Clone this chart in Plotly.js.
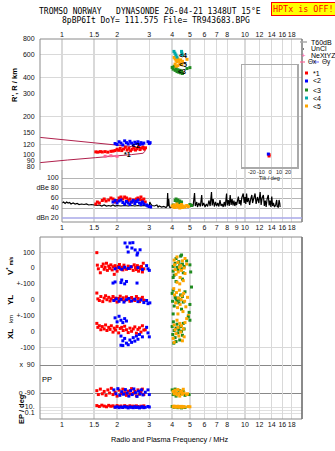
<!DOCTYPE html>
<html><head><meta charset="utf-8">
<script src="https://cdn.plot.ly/plotly-3.0.1.min.js"></script>
<style>html,body{margin:0;padding:0;background:#fff}#plot{width:335px;height:451px}</style>
</head><body><div id="plot"></div>
<script>
// ---------- DATA ----------
const freqTicks = [1,1.5,2,3,4,5,6,7,8,10,12,14,16,18];
const freqTicksMid = [1,1.5,2,3,4,5,6,7,8,9,10,12,14,16,18];
const heightTicks = [80,90,100,120,150,200,300,400,600,800];
const heightGrid = [120,200,400,600];
const dbTicks = [100,80,60,40,20];
const dbLabels = ['100','dBe 80','60','40','dBn 20'];
const tiltTicks = [-20,-10,0,10,20];

// height panel (f MHz, km)
const modelCurve = [[0.75,136.5],[1.07,130],[1.52,122.5],[2.0,118.9],[2.4,115.5],[2.77,111.9],[2.83,110.5],[2.84,106],[2.8,103.5],[2.77,102.4],[2.4,100],[2.0,97.5],[1.52,94.6],[1.07,90.7],[0.75,86.4]];
const hRed = [[1.53,105],[1.57,104.5],[1.62,105.5],[1.66,104.8],[1.72,105.5],[1.78,104.5],[1.85,106],[1.9,106.5],[1.95,107.5],[2.0,110],[2.04,108],[2.08,112],[2.12,107.5],[2.17,110.5],[2.22,114],[2.27,108.5],[2.32,112],[2.37,107],[2.42,110],[2.47,113.5],[2.52,108.5],[2.57,111],[2.62,115],[2.67,109.5],[2.72,112.5],[2.77,114.5],[2.82,110.5],[2.86,113]];
const hBlue = [[1.95,122],[2.0,120],[2.05,126],[2.1,123],[2.15,119],[2.2,128],[2.25,124],[2.3,121],[2.35,127],[2.4,123],[2.45,119],[2.5,125],[2.55,122],[2.6,126],[2.65,120],[2.7,124],[2.75,121],[2.8,123],[2.95,126],[3.0,122],[3.03,124]];
const hPink = [[1.72,97],[1.85,98],[2.0,97]];
const hCyan = [[4.09,640],[4.14,620],[4.19,600],[4.25,578],[4.50,640],[4.52,620],[4.54,600]];
const hOrange = [[4.1,575],[4.15,560],[4.2,545],[4.25,530],[4.3,560],[4.35,540],[4.4,520],[4.45,550],[4.5,505],[4.55,535],[4.15,510],[4.3,495],[4.2,490],[4.82,555]];
const hGreen = [[4.0,480],[4.05,465],[4.1,490],[4.15,455],[4.2,470],[4.25,445],[4.3,460],[4.35,440],[4.4,455],[4.45,435],[4.5,450],[4.55,430],[4.82,470],[5.0,478]];
const modeLabels = [['*1',2.27,101],['&lt;2',2.55,117],['&lt;4',4.58,590],['&lt;5',4.58,510],['&lt;3',4.55,442]];
const tiltRed = [[-1,100],[-1,97.5]];
const tiltBlue = [[-1.8,101]];

// amplitude panel (f MHz, dB)
const noise = [[1.00,50],[1.02,52],[1.04,49],[1.06,52],[1.08,50],[1.10,51],[1.12,48],[1.15,50],[1.18,48],[1.21,49],[1.24,47],[1.28,48],[1.32,47],[1.36,48],[1.40,46],[1.45,47],[1.50,46],[1.55,45],[1.60,46],[1.65,44],[1.70,46],[1.75,44],[1.80,45],[1.85,44],[1.90,46],[1.95,44],[2.0,45],[2.1,44],[2.2,45],[2.3,44],[2.4,45],[2.5,44],[2.6,45],[2.7,44],[2.8,45],[2.9,44],[3.0,46],[3.02,52],[3.05,48],[3.1,45],[3.2,44],[3.3,46],[3.35,42],[3.4,44],[3.5,42],[3.6,43],[3.7,41],[3.75,43],[3.78,70],[3.80,44],[3.83,58],[3.86,42],[3.9,41],[3.95,42],[4.0,41],
 [5.0,42],[5.1,48],[5.2,43],[5.3,70],[5.35,44],[5.45,52],[5.5,42],[5.6,50],[5.7,43],[5.8,66],[5.85,44],[5.95,50],[6.05,42],[6.15,48],[6.25,43],[6.35,55],[6.45,44],[6.56,72],[6.62,45],[6.7,58],[6.8,43],[6.9,52],[7.0,44],[7.1,50],[7.2,43],[7.3,56],[7.4,44],[7.5,48],[7.6,42],[7.7,52],[7.8,43],[7.93,69],[8.0,45],[8.1,56],[8.2,44],[8.3,66],[8.4,46],[8.5,58],[8.6,45],[8.7,55],[8.8,44],[8.9,52],[9.0,46],[9.1,58],[9.2,63],[9.3,48],[9.4,56],[9.5,45],[9.6,60],[9.78,69],[9.9,50],[10.0,62],[10.1,48],[10.2,69],[10.3,52],[10.45,60],[10.6,46],[10.75,58],[10.9,66],[11.0,50],[11.15,60],[11.35,69],[11.5,48],[11.7,62],[11.9,50],[12.1,72],[12.25,46],[12.4,60],[12.6,66],[12.75,44],[12.9,55],[13.05,42],[13.2,58],[13.4,66],[13.55,45],[13.7,55],[13.85,42],[14.0,63],[14.15,44],[14.3,50],[14.5,42],[14.7,46],[14.9,56],[15.0,43],[15.2,42],[15.35,56],[15.5,49],[15.55,42]];
const aRed = [[1.53,48],[1.56,52],[1.6,50],[1.66,55],[1.7,58],[1.74,54],[1.8,56],[1.85,60],[1.9,58],[1.95,52],[2.0,55],[2.05,60],[2.1,62],[2.15,58],[2.2,62],[2.25,60],[2.3,55],[2.35,58],[2.4,52],[2.45,56],[2.5,54],[2.55,58],[2.6,60],[2.65,57],[2.7,62],[2.75,55],[2.8,58],[2.85,52]];
const aBlue = [[1.9,52],[1.95,55],[2.0,50],[2.05,54],[2.1,56],[2.15,51],[2.2,48],[2.25,53],[2.3,50],[2.35,47],[2.4,52],[2.45,55],[2.5,49],[2.55,53],[2.6,56],[2.65,50],[2.7,47],[2.75,52],[2.8,48],[2.9,46],[2.95,44],[3.0,43],[3.05,42]];
const aGreen = [[4.15,55],[4.2,58],[4.25,52],[4.3,56],[4.35,50],[4.4,54],[4.45,48],[4.5,52],[4.05,46],[5.0,47],[5.1,45]];
const aOrange = [[4.0,44],[4.05,42],[4.1,46],[4.15,41],[4.2,44],[4.25,48],[4.3,42],[4.35,45],[4.4,40],[4.45,43],[4.5,47],[4.55,41],[4.6,44],[4.7,42],[4.8,45],[4.9,43]];

// velocity V* (m/s)
const vRed = [[1.55,97],[1.56,18],[1.58,-5],[1.62,-30],[1.65,10],[1.68,25],[1.70,-8],[1.72,5],[1.75,30],[1.77,-15],[1.80,12],[1.82,-2],[1.85,20],[1.88,-12],[1.90,8],[1.93,-40],[1.95,15],[1.98,0],[2.00,-20],[2.03,10],[2.06,22],[2.08,-5],[2.12,5],[2.15,-12],[2.18,18],[2.20,0],[2.25,-8],[2.30,12],[2.35,-3],[2.40,8],[2.45,-15],[2.48,20],[2.52,3],[2.55,-10],[2.58,15],[2.62,-20],[2.65,6],[2.68,-4],[2.72,10],[2.75,-25],[2.78,30],[2.80,-5]];
const vBlue = [[1.95,-5],[2.05,3],[2.12,-8],[2.2,5],[2.3,-3],[2.38,8],[2.6,2],[2.75,-10],[2.9,15],[2.95,-5],[3.0,-15],[2.21,158],[2.35,158],[2.44,160],[2.27,133],[2.41,126],[2.51,114],[2.30,101],[2.59,95],[2.57,82],[2.67,115],[1.90,-95],[1.95,-88],[2.0,-107],[2.1,-92],[2.12,-76],[2.25,-85],[2.57,-95],[2.2,-100]];
const vGreen = [[4.05,10],[4.05,-20],[4.1,-45],[4.15,30],[4.2,60],[4.25,5],[4.3,-10],[4.35,40],[4.4,20],[4.45,75],[4.5,82],[4.5,-5],[4.55,25],[4.6,-30],[4.65,10],[4.8,45],[5.0,20],[5.05,-25],[4.05,-60],[4.2,-85],[4.55,-70]];
const vOrange = [[4.1,50],[4.12,20],[4.15,-10],[4.2,-40],[4.25,70],[4.3,35],[4.32,-25],[4.38,5],[4.42,-60],[4.45,15],[4.5,-15],[4.55,45],[4.6,-80],[4.65,0],[4.7,60],[4.7,-35],[4.8,25],[4.4,-100],[4.25,-90]];
// YL (km)
const ylRed = [[1.55,42],[1.57,5],[1.6,-5],[1.63,20],[1.67,-12],[1.7,10],[1.73,25],[1.76,0],[1.8,15],[1.83,-8],[1.86,5],[1.9,20],[1.93,-3],[1.96,10],[2.0,-15],[2.04,8],[2.08,22],[2.12,0],[2.16,12],[2.2,-6],[2.25,18],[2.3,4],[2.35,-10],[2.4,14],[2.45,2],[2.5,-5],[2.55,20],[2.6,8],[2.65,-12],[2.7,5],[2.75,15],[2.8,-3]];
const ylBlue = [[1.92,-5],[1.98,5],[2.05,-10],[2.1,2],[2.18,-15],[2.25,0],[2.32,8],[2.4,-8],[2.5,3],[2.6,-12],[2.7,-2],[2.8,-18],[2.9,-5],[2.95,-25],[3.02,-20]];
const ylGreen = [[4.0,40],[4.02,-10],[4.05,60],[4.1,-40],[4.15,15],[4.2,5],[4.25,-5],[4.3,10],[4.35,-20],[4.4,0],[4.45,30],[4.5,-60],[4.55,20],[4.6,-15],[4.7,50],[4.95,-80],[5.0,-30],[5.1,80],[4.05,-90],[5.0,110]];
const ylOrange = [[4.08,70],[4.12,30],[4.18,-20],[4.22,45],[4.28,-50],[4.32,10],[4.38,60],[4.42,-30],[4.48,0],[4.52,25],[4.58,-75],[4.62,40],[4.68,-10],[4.75,-45],[4.85,15],[4.9,-100],[4.3,-90]];
// XL (km)
const xlRed = [[1.55,50],[1.57,25],[1.6,35],[1.63,10],[1.66,30],[1.7,15],[1.73,40],[1.76,5],[1.8,25],[1.83,12],[1.86,35],[1.9,-5],[1.93,20],[1.96,8],[2.0,30],[2.04,-10],[2.08,18],[2.12,25],[2.16,5],[2.2,32],[2.25,10],[2.3,-8],[2.35,20],[2.4,0],[2.45,15],[2.5,28],[2.55,-12],[2.6,12],[2.65,22],[2.7,-5],[2.75,35],[2.8,8],[2.85,10]];
const xlBlue = [[1.9,100],[1.95,85],[2.0,60],[2.05,95],[2.1,70],[2.15,55],[2.2,80],[2.25,65],[2.1,-30],[2.15,-60],[2.2,-45],[2.25,-75],[2.3,-85],[2.35,-55],[2.4,-70],[2.45,-40],[2.5,-62],[2.55,-30],[2.6,-50],[2.65,-20],[2.75,-35],[2.9,25],[2.95,-10],[3.0,-35],[2.1,-88],[2.15,-90]];
const xlGreen = [[4.0,30],[4.03,-20],[4.06,60],[4.1,5],[4.15,-40],[4.2,20],[4.25,45],[4.3,-10],[4.35,10],[4.4,-55],[4.45,30],[4.5,0],[4.55,-25],[4.6,50],[4.65,15],[4.08,-75],[4.2,-65],[4.9,90],[5.0,70]];
const xlOrange = [[4.05,-45],[4.1,40],[4.15,10],[4.2,-15],[4.25,70],[4.3,25],[4.35,-30],[4.4,50],[4.45,-5],[4.5,35],[4.55,-60],[4.6,15],[4.65,-35],[4.7,55],[4.8,80],[4.1,-70]];
// PP (deg)
const ppRed = [[1.55,-75],[1.58,-100],[1.62,-65],[1.66,-95],[1.7,-80],[1.74,-105],[1.78,-70],[1.82,-90],[1.86,-60],[1.9,-100],[1.95,-85],[2.0,-110],[2.05,-72],[2.1,-95],[2.15,-65],[2.2,-88],[2.25,-105],[2.3,-78],[2.35,-96],[2.4,-62],[2.45,-92],[2.5,-80],[2.55,-108],[2.6,-70],[2.65,-98],[2.7,-85],[2.75,-65],[2.8,-100]];
const ppBlue = [[1.92,-70],[1.97,-95],[2.02,-62],[2.07,-105],[2.12,-82],[2.17,-98],[2.22,-68],[2.27,-90],[2.32,-110],[2.37,-75],[2.42,-100],[2.47,-64],[2.52,-88],[2.57,-112],[2.62,-78],[2.67,-95],[2.72,-70],[2.77,-102],[2.85,-85],[2.95,-70],[3.0,-100]];
const ppGreen = [[4.0,-70],[4.05,-100],[4.1,-85],[4.15,-65],[4.2,-110],[4.3,-90],[4.4,-75],[4.5,-95],[4.6,-80],[4.7,-105],[4.95,-100]];
const ppOrange = [[4.05,-80],[4.1,-95],[4.15,-72],[4.2,-88],[4.25,-102],[4.3,-68],[4.35,-92],[4.4,-110],[4.45,-78],[4.5,-85],[4.55,-98],[4.6,-66],[4.65,-90],[4.8,-100],[4.85,-95]];
// EP (deg)
const epRed = [[1.55,30],[1.6,15],[1.65,40],[1.7,20],[1.75,12],[1.8,35],[1.85,18],[1.9,25],[1.95,10],[2.0,30],[2.05,14],[2.1,22],[2.15,8],[2.2,28],[2.25,16],[2.3,11],[2.35,26],[2.4,13],[2.45,20],[2.5,9],[2.55,24],[2.6,15],[2.65,7],[2.7,19],[2.75,12],[2.8,25]];
const epBlue = [[1.95,8],[2.0,12],[2.05,6],[2.1,10],[2.15,7],[2.2,14],[2.25,9],[2.3,5],[2.35,11],[2.4,8],[2.45,6],[2.5,13],[2.55,7],[2.6,10],[2.65,5],[2.7,9],[2.75,12],[2.8,6],[2.85,8],[2.95,15],[3.0,10]];
const epGreen = [[4.0,15],[4.1,8],[4.2,12],[4.3,6],[4.4,10],[4.5,5],[4.6,9],[4.7,7]];
const epOrange = [[4.05,12],[4.1,20],[4.15,9],[4.2,15],[4.25,11],[4.3,18],[4.35,8],[4.4,14],[4.45,10],[4.5,16],[4.55,9],[4.6,13],[4.7,11],[4.9,14],[5.0,12]];

// ---------- LAYOUT GEOMETRY ----------
const W = 335, H = 451;
const XL0 = 40, XR = 302, XF1 = 62, PXDEC = 183;
const xr = [(XL0 - XF1) / PXDEC, (XR - XF1) / PXDEC];
const xd = [XL0 / W, XR / W];
const py = v => 1 - v / H;
const pxp = v => v / W;
const C = {red:'#ff0000', blue:'#0000ff', green:'#1f8a1f', cyan:'#00aaaa', orange:'#ffa500', pink:'#ff6699', curve:'#b0204c'};
const FONT = 'Liberation Sans, Arial, sans-serif';
const tf = {family: FONT, size: 7, color: '#111'};
const GRID = '#d9d9d9';

function pts(d, xa, ya, color, extra) {
  return Object.assign({type:'scatter', mode:'markers', x:d.map(p=>p[0]), y:d.map(p=>p[1]),
    xaxis:xa, yaxis:ya, marker:{symbol:'square', size:3, color:color, line:{width:0}},
    hoverinfo:'skip', showlegend:false, cliponaxis:false}, extra || {});
}

const traces = [
  {type:'scatter', mode:'lines', x:modelCurve.map(p=>p[0]), y:modelCurve.map(p=>p[1]), xaxis:'x', yaxis:'y',
   line:{color:C.curve, width:1}, hoverinfo:'skip', showlegend:false},
  pts(hRed,'x','y',C.red), pts(hBlue,'x','y',C.blue),
  {type:'scatter', mode:'lines+markers', x:hPink.map(p=>p[0]), y:hPink.map(p=>p[1]), xaxis:'x', yaxis:'y',
   line:{color:C.pink, width:1}, marker:{symbol:'square', size:3, color:C.pink}, hoverinfo:'skip', showlegend:false},
  pts(hGreen,'x','y',C.green), pts(hOrange,'x','y',C.orange), pts(hCyan,'x','y',C.cyan),
  pts(tiltRed,'x4','y8',C.red), pts(tiltBlue,'x4','y8',C.blue),
  {type:'scatter', mode:'lines', x:noise.slice(0,55).map(p=>p[0]), y:noise.slice(0,55).map(p=>p[1]), xaxis:'x2', yaxis:'y2',
   line:{color:'#000', width:1.2}, hoverinfo:'skip', showlegend:false},
  {type:'scatter', mode:'lines', x:noise.slice(55).map(p=>p[0]), y:noise.slice(55).map(p=>p[1]), xaxis:'x2', yaxis:'y2',
   line:{color:'#000', width:1.2}, hoverinfo:'skip', showlegend:false},
  pts(aRed,'x2','y2',C.red), pts(aBlue,'x2','y2',C.blue), pts(aGreen,'x2','y2',C.green), pts(aOrange,'x2','y2',C.orange),
];
const lower = [['y3',vRed,vBlue,vGreen,vOrange],['y4',ylRed,ylBlue,ylGreen,ylOrange],['y5',xlRed,xlBlue,xlGreen,xlOrange],
  ['y6',ppRed,ppBlue,ppGreen,ppOrange],['y7',epRed,epBlue,epGreen,epOrange]];
lower.forEach(r => {
  traces.push(pts(r[1],'x3',r[0],C.red), pts(r[2],'x3',r[0],C.blue), pts(r[3],'x3',r[0],C.green), pts(r[4],'x3',r[0],C.orange));
});

function xAx(domain, range, anchor, side, tv) {
  return {type:'log', domain:domain, range:range, anchor:anchor, side:side, tickmode:'array', tickvals:tv, ticktext:tv.map(String),
    tickangle:0, showgrid:true, gridcolor:GRID, gridwidth:1.5, zeroline:false, showline:false, ticks:'', tickfont:tf, fixedrange:true};
}
function yAx(domain, range, tv, tt, grid, gcol, type) {
  return {type:type||'linear', domain:domain, range:range, anchor:'x3', tickmode:'array', tickvals:tv, ticktext:tt,
    showgrid:false, zeroline:false, showline:false, ticks:'outside', ticklen:3, tickcolor:'rgba(0,0,0,0)', tickfont:tf,
    minor:{tickmode:'array', tickvals:grid, showgrid:true, gridcolor:gcol||GRID, gridwidth:1, ticks:''}, fixedrange:true};
}
const logTop = Math.log10(800), pxPerDec = 128;
const layout = {
  width:W, height:H, margin:{l:0,r:0,t:0,b:0}, paper_bgcolor:'#fff', plot_bgcolor:'rgba(0,0,0,0)', showlegend:false,
  xaxis: xAx(xd, xr, 'y', 'top', freqTicks),
  yaxis: Object.assign(yAx([py(170), py(39)], [logTop - (170-39)/pxPerDec, logTop], heightTicks, heightTicks.map(String), heightGrid, GRID, 'log'), {anchor:'x'}),
  xaxis2: xAx([pxp(XF1), pxp(XR)], [0, xr[1]], 'y2', 'bottom', freqTicksMid),
  yaxis2: Object.assign(yAx([py(222), py(170)], [12, 116], dbTicks, dbLabels, [100,80,60,40], '#b4b4b4'), {anchor:'x2', ticklen:1}),
  xaxis3: xAx(xd, xr, 'y7', 'bottom', freqTicks),
  yaxis3: yAx([py(284), py(237)], [-101, 195.8], [100,0,-100], ['100','0','+-100'], [100,-100]),
  yaxis4: yAx([py(316), py(284)], [-103, 99.2], [0,-100], ['0','+-100'], [-100]),
  yaxis5: yAx([py(358), py(316)], [-168.7, 96.7], [0,-100], ['0','-100'], [-100]),
  yaxis6: yAx([py(400), py(358)], [-135, 135], [90,-90], ['x  90','o -90'], [90,-90], '#888'),
  yaxis7: yAx([py(419), py(400)], [-3, 3.333], [10,0.1], ['10.','0.1'], [10,1,0.1], '#e0e0e0', 'log'),
  xaxis4: {domain:[pxp(242), pxp(297)], range:[-31, 30], anchor:'y8', tickmode:'array', tickvals:tiltTicks, ticktext:tiltTicks.map(String),
    tickangle:0, showgrid:false, zeroline:false, showline:true, mirror:true, linecolor:'#aaa', linewidth:1.5, ticks:'', ticklabelstandoff:-1,
    tickfont:{family:FONT,size:5.5,color:'#222'}, fixedrange:true},
  yaxis8: {type:'log', domain:[py(167), py(65)], range:[logTop - (167-39)/pxPerDec, logTop - (65-39)/pxPerDec], anchor:'x4',
    showticklabels:false, showgrid:false, zeroline:false, showline:true, mirror:true, linecolor:'#aaa', linewidth:1.5, ticks:'', fixedrange:true},
  shapes: [], annotations: []
};
const S = layout.shapes, A = layout.annotations;
const FR = '#8a8a8a';
function ln(x0,y0,x1,y1,col,w){ S.push({type:'line', xref:'paper', yref:'paper', x0:pxp(x0), y0:py(y0), x1:pxp(x1), y1:py(y1), line:{color:col||FR, width:w||1}}); }
// frames
ln(40,39,302,39); ln(40,39,40,170); ln(302,39,302,222,'#777',1.5);
ln(62,170,62,222); ln(62,222,302,222);
S.push({type:'rect', xref:'paper', yref:'paper', x0:pxp(40), y0:py(237), x1:pxp(302), y1:py(419), line:{color:FR, width:1}});
ln(302,237,302,419,'#777',1.5);
// dBn line
S.push({type:'line', xref:'paper', yref:'y2', x0:pxp(62), x1:pxp(302), y0:20, y1:20, line:{color:'#a8a8e8', width:1.5}});

function txt(t, x, y, o) { A.push(Object.assign({text:t, xref:'paper', yref:'paper', x:pxp(x), y:py(y), showarrow:false,
  xanchor:'center', yanchor:'middle', font:{family:FONT, size:7, color:'#000'}}, o||{})); }
const MONO = 'DejaVu Sans Mono, monospace';
txt('TROMSO NORWAY   DYNASONDE 26-04-21 1348UT 15°E', 150, 11.5, {font:{family:MONO, size:8, color:'#000'}});
txt('8pBP6It DoY= 111.575 File= TR943683.BPG', 155.5, 20.5, {font:{family:MONO, size:8, color:'#000'}});
txt('HPTx is OFF!', 303, 9, {font:{family:MONO, size:8.4, color:'#ff0000'}, bgcolor:'#ffff00', bordercolor:'#ff0000', borderwidth:1, borderpad:1});
txt("R', R / km", 14, 85, {textangle:-90, font:{family:FONT, size:7.5, color:'#000', weight:'bold'}});
txt("V<sup>*</sup> <span style='font-size:5px'>m/s</span>", 10, 266, {textangle:-90, font:{family:FONT, size:8, color:'#000', weight:'bold'}});
txt('YL', 10, 300, {textangle:-90, font:{family:FONT, size:8, color:'#000', weight:'bold'}});
txt('km', 11, 319, {textangle:-90, font:{family:FONT, size:6, color:'#000'}});
txt('XL', 10, 334, {textangle:-90, font:{family:FONT, size:8, color:'#000', weight:'bold'}});
txt('PP', 47, 379, {font:{family:FONT, size:7.5, color:'#000'}});
txt('EP / deg', 21, 409, {textangle:-90, font:{family:FONT, size:7.5, color:'#000', weight:'bold'}});
txt('Radio and Plasma Frequency / MHz', 170, 439, {font:{family:FONT, size:7.3, color:'#000'}});
txt('Tilt / deg', 269, 177.5, {font:{family:FONT, size:5.5, color:'#222'}});
// mode labels in height panel
modeLabels.forEach(m => A.push({text:m[0], xref:'x', yref:'y', x:Math.log10(m[1]), y:Math.log10(m[2]), showarrow:false,
  font:{family:FONT, size:7, color:'#000', weight:'bold'}}));
// legend
ln(300,42,307,42,'#aaa',1.5); txt('T60dB', 309, 42, {xanchor:'left'});
S.push({type:'rect', xref:'paper', yref:'paper', x0:pxp(303), x1:pxp(304), y0:py(48.5), y1:py(49.5), fillcolor:'#000', line:{width:0}});
txt('UnCl', 309, 48.5, {xanchor:'left'});
txt('+', 303.5, 55.5, {font:{family:FONT, size:8, color:C.pink}}); txt('NeXtYZ', 309, 55.5, {xanchor:'left'});
ln(300,62,305,62,C.pink,1.2); txt('Θx', 305.5, 62, {xanchor:'left', font:{family:FONT, size:6.5, color:'#000'}});
ln(313,62,319,62,'#8080ff',1.2); txt('Θy', 319.5, 62, {xanchor:'left', font:{family:FONT, size:6.5, color:'#000'}});
const legModes = [['*1',C.red,73],['&lt;2',C.blue,81],['&lt;3',C.green,90],['&lt;4',C.cyan,98],['&lt;5',C.orange,106]];
legModes.forEach(m => {
  S.push({type:'rect', xref:'paper', yref:'paper', x0:pxp(305), x1:pxp(308), y0:py(m[2]+1.5), y1:py(m[2]-1.5), fillcolor:m[1], line:{width:0}});
  txt(m[0], 311, m[2], {xanchor:'left', font:{family:FONT, size:7, color:'#000'}});
});

Plotly.newPlot('plot', traces, layout, {displayModeBar:false, staticPlot:true});
</script></body></html>
